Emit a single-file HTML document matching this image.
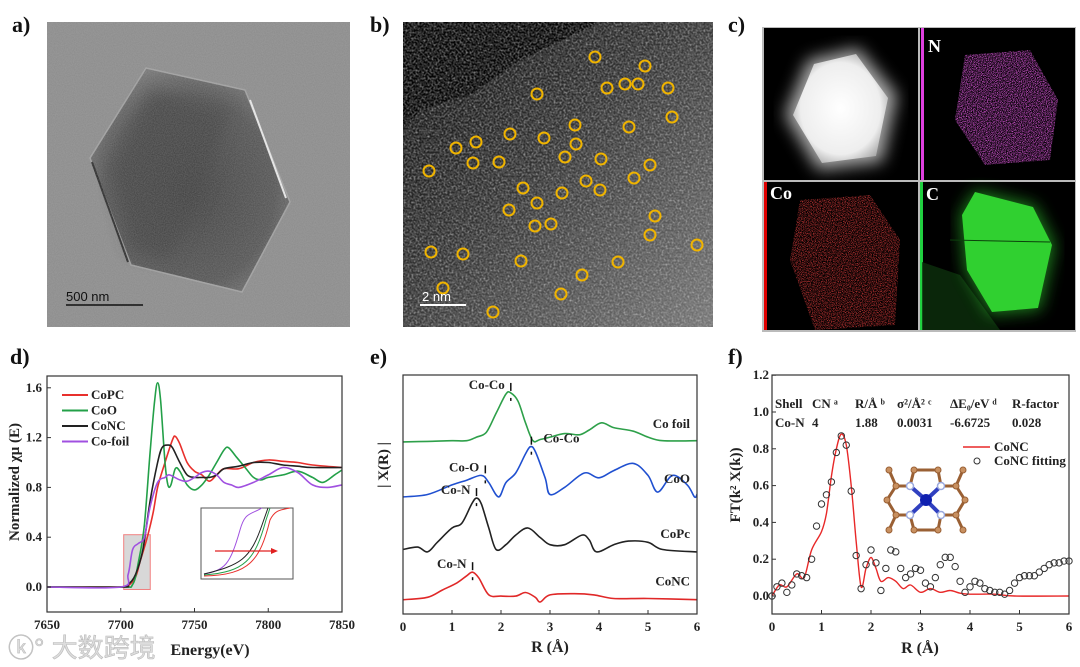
<!DOCTYPE html>
<html><head><meta charset="utf-8"><style>
html,body{margin:0;padding:0;background:#fff;}
svg{display:block;font-family:"Liberation Serif","Noto Serif CJK SC",serif;}
.t{font-weight:bold;font-size:13px;fill:#222;}
.pl{font-weight:bold;font-size:22px;fill:#111;}
</style></head><body>
<svg id="fig" width="1080" height="667" viewBox="0 0 1080 667" xmlns="http://www.w3.org/2000/svg">
<defs>
<filter id="noiseA" x="0" y="0" width="100%" height="100%"><feTurbulence type="fractalNoise" baseFrequency="0.9" numOctaves="2" seed="3"/><feColorMatrix type="matrix" values="0 0 0 0 0.5  0 0 0 0 0.5  0 0 0 0 0.5  0 0 0 0.35 0"/><feComposite in2="SourceGraphic" operator="in"/></filter>
<filter id="noiseB" x="0" y="0" width="100%" height="100%"><feTurbulence type="fractalNoise" baseFrequency="0.5" numOctaves="2" seed="7"/><feColorMatrix type="matrix" values="0 0 0 0.9 0  0 0 0 0.9 0  0 0 0 0.9 0  1.3 0 0 0 -0.45"/><feComposite in2="SourceGraphic" operator="in"/></filter>
<filter id="dotsP" x="0" y="0" width="100%" height="100%"><feTurbulence type="fractalNoise" baseFrequency="1.2" numOctaves="1" seed="2"/><feColorMatrix type="matrix" values="0 0 0 0 0.75  0 0 0 0 0.1  0 0 0 0 0.75  3 0 0 0 -1.2"/><feComposite in2="SourceGraphic" operator="in"/></filter>
<filter id="dotsR" x="0" y="0" width="100%" height="100%"><feTurbulence type="fractalNoise" baseFrequency="1.2" numOctaves="1" seed="5"/><feColorMatrix type="matrix" values="0 0 0 0 0.8  0 0 0 0 0.05  0 0 0 0 0.05  3 0 0 0 -1.3"/><feComposite in2="SourceGraphic" operator="in"/></filter>
<filter id="blur4"><feGaussianBlur stdDeviation="8"/></filter>
<linearGradient id="gb" x1="0" y1="0" x2="1" y2="1"><stop offset="0" stop-color="#0a0a0a"/><stop offset="0.45" stop-color="#333"/><stop offset="1" stop-color="#777"/></linearGradient>
<radialGradient id="ga" cx="0.5" cy="0.55" r="0.6"><stop offset="0" stop-color="#3c3c3c"/><stop offset="0.7" stop-color="#505050"/><stop offset="1" stop-color="#777"/></radialGradient>
<radialGradient id="gw" cx="0.5" cy="0.5" r="0.6"><stop offset="0" stop-color="#fff"/><stop offset="0.7" stop-color="#eee"/><stop offset="1" stop-color="#999"/></radialGradient>
</defs>

<!-- panel a -->
<g>
<text class="pl" x="12" y="32">a)</text>
<rect x="47" y="22" width="303" height="305" fill="#8a8a8a"/>
<polygon points="146,68 245,90 290,202 242,292 131,265 90,158" fill="url(#ga)" stroke="#a0a0a0" stroke-width="1.5"/>
<polygon points="110,170 150,90 230,110 200,200 170,260 130,250" fill="#3a3a3a" filter="url(#blur4)" opacity="0.7"/>
<line x1="250" y1="100" x2="286" y2="198" stroke="#eee" stroke-width="2"/>
<line x1="92" y1="162" x2="128" y2="262" stroke="#222" stroke-width="2"/>
<rect x="47" y="22" width="303" height="305" fill="#fff" filter="url(#noiseA)"/>
<line x1="66" y1="305" x2="143" y2="305" stroke="#111" stroke-width="1.5"/>
<text x="66" y="301" font-size="13" fill="#111" font-family="Liberation Sans,sans-serif">500 nm</text>
</g>

<!-- panel b -->
<g>
<text class="pl" x="370" y="32">b)</text>
<rect x="403" y="22" width="310" height="305" fill="url(#gb)"/>
<polygon points="403,22 600,22 520,60 470,95 420,110 403,130" fill="#050505"/>
<rect x="403" y="22" width="310" height="305" fill="#fff" filter="url(#noiseB)"/>
<g id="circles" fill="none" stroke="#f0b400" stroke-width="2"></g>
<line x1="420" y1="305" x2="466" y2="305" stroke="#fff" stroke-width="2"/>
<text x="422" y="301" font-size="13" fill="#fff" font-family="Liberation Sans,sans-serif">2 nm</text>
</g>

<!-- panel c -->
<g>
<text class="pl" x="728" y="32">c)</text>
<rect x="762" y="27" width="314" height="305" fill="#bbb"/>
<rect x="764" y="28" width="154" height="152" fill="#000"/>
<polygon points="808,60 858,48 897,95 882,162 818,170 785,115" fill="#aaa" filter="url(#blur4)"/>
<polygon points="814,64 856,54 888,98 876,156 822,163 793,115" fill="url(#gw)"/>
<rect x="920" y="28" width="155" height="152" fill="#000"/>
<rect x="921" y="28" width="3" height="152" fill="#e040e0"/>
<polygon points="965,55 1030,50 1058,100 1050,160 985,165 955,120" fill="#fff" filter="url(#dotsP)"/>
<text x="928" y="52" font-size="18" font-weight="bold" fill="#fff">N</text>
<rect x="764" y="182" width="154" height="148" fill="#000"/>
<rect x="764" y="182" width="3" height="148" fill="#e00000"/>
<polygon points="800,200 870,195 900,240 895,325 815,330 790,260" fill="#fff" filter="url(#dotsR)"/>
<text x="770" y="199" font-size="18" font-weight="bold" fill="#fff">Co</text>
<rect x="920" y="182" width="155" height="148" fill="#000"/>
<rect x="920" y="182" width="3" height="148" fill="#20d040"/>
<polygon points="922,262 960,275 1000,330 922,330" fill="#0c300c" opacity="0.8"/>
<polygon points="975,190 1035,205 1055,245 1040,310 990,315 965,270 960,215" fill="#30d030" filter="url(#blur4)" opacity="0.6"/>
<polygon points="975,192 1033,207 1052,245 1038,308 992,312 967,270 962,215" fill="#30d030"/>
<line x1="950" y1="240" x2="1050" y2="242" stroke="#0c400c" stroke-width="1"/>
<text x="926" y="200" font-size="18" font-weight="bold" fill="#fff">C</text>
</g>

<g id="pd">
<text class="pl" x="10" y="364">d)</text>
</g>
<g id="pe">
<text class="pl" x="370" y="364">e)</text>
</g>
<g id="pf">
<text class="pl" x="728" y="364">f)</text>
</g>
<text x="8" y="657" font-size="26" fill="#ddd" stroke="#bbb" stroke-width="0.6" font-family="Liberation Sans,Noto Sans CJK SC,sans-serif">ⓚ° 大数跨境</text>
</svg>
<script>
const NS="http://www.w3.org/2000/svg";
function mk(p,tag,a,txt){const e=document.createElementNS(NS,tag);for(const k in a)e.setAttribute(k,a[k]);if(txt!==undefined)e.textContent=txt;p.appendChild(e);return e;}
function smooth(pts){let d='M'+pts[0][0].toFixed(1)+','+pts[0][1].toFixed(1);
 for(let i=0;i<pts.length-1;i++){const p0=pts[Math.max(0,i-1)],p1=pts[i],p2=pts[i+1],p3=pts[Math.min(pts.length-1,i+2)];
  const c1=[p1[0]+(p2[0]-p0[0])/6,p1[1]+(p2[1]-p0[1])/6],c2=[p2[0]-(p3[0]-p1[0])/6,p2[1]-(p3[1]-p1[1])/6];
  d+='C'+c1[0].toFixed(1)+','+c1[1].toFixed(1)+' '+c2[0].toFixed(1)+','+c2[1].toFixed(1)+' '+p2[0].toFixed(1)+','+p2[1].toFixed(1);}
 return d;}

const atomX=[595,645,607,625,638,668,537,672,575,629,510,544,476,456,576,565,601,473,499,650,429,634,586,523,600,562,537,509,655,535,551,650,697,431,463,521,618,582,443,561,493];
const atomY=[57,66,88,84,84,88,94,117,125,127,134,138,142,148,144,157,159,163,162,165,171,178,181,188,190,193,203,210,216,226,224,235,245,252,254,261,262,275,288,294,312];
const cg=document.getElementById('circles');
atomX.forEach((x,i)=>{const c=mk(cg,'circle',{cx:x,cy:atomY[i],r:5.5});

});

const dXTicks=[7650,7700,7750,7800,7850];
const dYTicks=[0.0,0.4,0.8,1.2,1.6];
const copcE=[7650,7700,7705,7710,7713,7718,7722,7725,7730,7735,7737,7740,7745,7750,7755,7760,7765,7770,7780,7790,7800,7810,7820,7830,7850];
const copcV=[0,0,0.01,0.08,0.2,0.4,0.6,0.8,1.0,1.18,1.21,1.15,1.0,0.93,0.9,0.85,0.9,0.95,0.95,1.0,1.02,1.01,1.0,0.98,0.96];
const cooE=[7650,7700,7708,7712,7716,7720,7723,7725,7727,7730,7732,7734,7737,7740,7745,7750,7755,7760,7765,7770,7773,7778,7785,7790,7795,7800,7810,7820,7830,7837,7845,7850];
const cooV=[0,0,0.02,0.2,0.5,1.1,1.5,1.64,1.5,1.0,0.82,0.82,0.95,0.93,0.82,0.78,0.82,0.9,1.0,1.1,1.12,1.05,0.95,0.88,0.86,0.88,0.9,0.93,0.88,0.84,0.9,0.94];
const concE=[7650,7700,7705,7710,7715,7720,7725,7728,7732,7735,7740,7745,7750,7755,7760,7765,7770,7780,7790,7800,7810,7820,7830,7850];
const concV=[0,0,0.02,0.1,0.3,0.7,1.0,1.12,1.14,1.12,1.0,0.9,0.88,0.88,0.88,0.9,0.95,0.97,1.0,1.0,0.98,0.97,0.96,0.96];
const foilE=[7650,7700,7705,7708,7712,7716,7720,7725,7730,7733,7740,7745,7750,7755,7760,7765,7770,7775,7780,7790,7800,7810,7820,7830,7840,7850];
const foilV=[0,0,0.1,0.3,0.35,0.4,0.65,0.84,0.88,0.9,0.86,0.85,0.88,0.92,0.93,0.9,0.84,0.82,0.8,0.84,0.9,0.96,0.92,0.82,0.8,0.82];
const dNames=['CoPC','CoO','CoNC','Co-foil'];
const dColors=['#e8302c','#23a048','#222','#a050e0'];

function axesBox(g,x0,y0,x1,y1){mk(g,'rect',{x:x0,y:y0,width:x1-x0,height:y1-y0,fill:'none',stroke:'#333','stroke-width':1.2,});}

(function(){
 const g=document.getElementById('pd');
 const X0=47,X1=342,Y0=376,Y1=612;
 const sx=e=>X0+(e-7650)/200*(X1-X0);
 const sy=v=>587-v*124.5;
 mk(g,'rect',{x:sx(7702),y:sy(0.42),width:sx(7720)-sx(7702),height:sy(-0.02)-sy(0.42),fill:'#d8d8d8',stroke:'#f08080','stroke-width':1,});
 const sets=[[copcE,copcV],[cooE,cooV],[concE,concV],[foilE,foilV]];
 sets.forEach((s,k)=>{const d=smooth(s[0].map((e,i)=>[sx(e),sy(s[1][i])]));
  const p=mk(g,'path',{d:d,fill:'none',stroke:dColors[k],'stroke-width':1.6,'stroke-linejoin':'round'});
  
  });
 axesBox(g,X0,Y0,X1,Y1);
 dXTicks.forEach(t=>{mk(g,'line',{x1:sx(t),x2:sx(t),y1:Y1,y2:Y1-4,stroke:'#333'});
  const l=mk(g,'text',{x:sx(t),y:Y1+17,'text-anchor':'middle',class:'t'},String(t));
  
  });
 dYTicks.forEach(t=>{mk(g,'line',{x1:X0,x2:X0+4,y1:sy(t),y2:sy(t),stroke:'#333'});
  const l=mk(g,'text',{x:X0-5,y:sy(t)+4,'text-anchor':'end',class:'t'},t.toFixed(1));
  
  });
 dNames.forEach((n,k)=>{const y=395+k*15.5;mk(g,'line',{x1:62,x2:88,y1:y,y2:y,stroke:dColors[k],'stroke-width':2});
  const l=mk(g,'text',{x:91,y:y+4,class:'t'},n);
  
  });
 const ins=mk(g,'g',{});
 mk(ins,'rect',{x:201,y:508,width:92,height:71,fill:'#fff',stroke:'#555'});
 mk(ins,'path',{d:'M204,574 C225,570 230,565 240,530 C245,512 250,515 262,508',fill:'none',stroke:'#a050e0'});
 mk(ins,'path',{d:'M204,574 C240,565 250,560 262,525 L268,508',fill:'none',stroke:'#222'});
 mk(ins,'path',{d:'M204,575 C245,572 255,560 266,520 L270,508',fill:'none',stroke:'#23a048'});
 mk(ins,'path',{d:'M204,576 C250,575 260,560 270,520 C275,510 280,510 290,508',fill:'none',stroke:'#e8302c'});
 mk(ins,'line',{x1:215,y1:551,x2:272,y2:551,stroke:'#e02020','stroke-width':1.2});
 mk(ins,'polygon',{points:'278,551 271,548 271,554',fill:'#e02020'});
 const yl=mk(g,'text',{x:0,y:0,class:'t','text-anchor':'middle',transform:'translate(19,482) rotate(-90)'},'Normalized χμ (E)');
 yl.setAttribute('style','font-size:15px');
 
 
 const xl=mk(g,'text',{x:210,y:655,'text-anchor':'middle',class:'t',style:'font-size:16px'},'Energy(eV)');
 
 
})();

const eXTicks=[0,1,2,3,4,5,6];
const eNames=['Co foil','CoO','CoPc','CoNC'];
const eColors=['#2ea04a','#2050d0','#222','#e02828'];
const eOffsets=[7.2,4.9,2.6,0.6];
const foilR=[0,0.5,1.0,1.3,1.5,1.7,1.9,2.1,2.2,2.35,2.5,2.65,2.8,3.0,3.3,3.6,3.8,4.05,4.3,4.7,5.0,5.3,6.0];
const foilA=[0,0.02,0.05,0.05,0.2,0.4,1.2,2.0,2.05,1.7,0.8,0.05,0.1,0.2,0.35,0.3,0.5,0.8,0.6,0.45,0.2,0.05,0.05];
const cooR=[0,0.5,1.0,1.3,1.6,1.75,1.95,2.1,2.3,2.5,2.6,2.7,2.9,3.0,3.3,3.7,4.0,4.3,4.7,5.0,5.2,5.5,5.8,5.95,6.0];
const cooA=[0,0.1,0.5,0.7,0.9,0.6,0.0,0.6,1.0,1.8,2.1,1.9,0.8,0.1,0.4,1.0,0.8,1.1,1.4,0.9,0.2,0.9,0.5,0.0,0.1];
const copcR=[0,0.3,0.5,0.7,1.0,1.2,1.4,1.5,1.6,1.75,1.9,2.1,2.3,2.55,2.8,3.0,3.3,3.65,3.8,3.95,4.3,4.6,5.0,5.3,6.0];
const copcA=[0.1,0.2,0.0,0.4,1.0,1.2,2.0,2.25,2.0,1.0,0.1,0.3,0.7,1.0,0.6,0.3,0.3,0.7,0.5,0.0,0.3,0.45,0.4,0.1,0.0];
const concR=[0,0.5,0.8,1.1,1.3,1.42,1.55,1.75,2.0,2.3,2.5,2.7,2.8,3.0,3.5,3.9,4.3,5.0,6.0];
const concA=[0,0.1,0.4,0.7,1.0,1.15,0.9,0.2,0.15,0.15,0.3,0.1,-0.1,0.2,0.25,0.2,0.05,0.05,0];
const eMarks=[['Co-Co',2.2,2.05],['Co-O',1.68,0.9],['Co-Co',2.62,2.1],['Co-N',1.5,2.25],['Co-N',1.42,1.15]];
const eMarkSeries=[0,1,1,2,3];

(function(){
 const g=document.getElementById('pe');
 const X0=403,X1=697,Y0=375,Y1=614;
 const sx=r=>X0+r/6*(X1-X0);
 const sy=v=>Y1-v*23.9;
 const sets=[[foilR,foilA],[cooR,cooA],[copcR,copcA],[concR,concA]];
 sets.forEach((s,k)=>{const d=smooth(s[0].map((r,i)=>[sx(r),sy(s[1][i]+eOffsets[k])]));
  const p=mk(g,'path',{d:d,fill:'none',stroke:eColors[k],'stroke-width':1.6,'stroke-linejoin':'round'});
  
  
  const l=mk(g,'text',{x:690,y:sy(eOffsets[k])-14,'text-anchor':'end',class:'t'},eNames[k]);
  
  });
 eMarks.forEach((m,i)=>{const k=eMarkSeries[i];const x=sx(m[1]),y=sy(m[2]+eOffsets[k]);
  mk(g,'line',{x1:x,x2:x,y1:y-10,y2:y-2,stroke:'#111','stroke-width':1.5});
  mk(g,'line',{x1:x,x2:x,y1:y+5,y2:y+8,stroke:'#111','stroke-width':1.5});
  const right=(i===2);
  const l=mk(g,'text',{x:right?x+12:x-6,y:y-4,'text-anchor':right?'start':'end',class:'t'},m[0]);
  
  });
 axesBox(g,X0,Y0,X1,Y1);
 eXTicks.forEach(t=>{mk(g,'line',{x1:sx(t),x2:sx(t),y1:Y1,y2:Y1-4,stroke:'#333'});
  const l=mk(g,'text',{x:sx(t),y:Y1+17,'text-anchor':'middle',class:'t'},String(t));
  
  });
 const yl=mk(g,'text',{x:0,y:0,'text-anchor':'middle',class:'t',style:'font-size:15px',transform:'translate(388,465) rotate(-90)'},'| X(R) |');
 
 
 const xl=mk(g,'text',{x:550,y:652,'text-anchor':'middle',class:'t',style:'font-size:16px'},'R (Å)');
 
 
})();

const fXTicks=[0,1,2,3,4,5,6];
const fYTicks=[0.0,0.2,0.4,0.6,0.8,1.0,1.2];
const fitR=[0,0.1,0.2,0.3,0.4,0.5,0.6,0.7,0.8,0.9,1.0,1.1,1.2,1.3,1.4,1.5,1.6,1.7,1.8,1.9,2.0,2.1,2.2,2.3,2.4,2.5,2.6,2.7,2.8,2.9,3.0,3.1,3.2,3.3,3.4,3.5,3.6,3.7,3.8,3.9,4.0,4.1,4.2,4.3,4.4,4.5,4.6,4.7,4.8,4.9,5.0,5.1,5.2,5.3,5.4,5.5,5.6,5.7,5.8,5.9,6.0];
const fitV=[0.0,0.05,0.07,0.02,0.06,0.12,0.11,0.1,0.2,0.38,0.5,0.55,0.62,0.78,0.87,0.82,0.57,0.22,0.04,0.17,0.25,0.18,0.03,0.15,0.25,0.24,0.15,0.1,0.12,0.15,0.14,0.07,0.05,0.1,0.17,0.21,0.21,0.16,0.08,0.02,0.05,0.08,0.07,0.04,0.03,0.02,0.02,0.01,0.03,0.07,0.1,0.11,0.11,0.11,0.13,0.15,0.17,0.18,0.18,0.19,0.19];
const concFR=[0,0.15,0.3,0.5,0.65,0.8,1.0,1.1,1.2,1.3,1.4,1.5,1.6,1.7,1.8,1.9,2.0,2.1,2.2,2.35,2.5,2.65,2.8,3.0,3.2,3.4,3.6,3.8,4.0,4.5,4.9,6.0];
const concFV=[0.0,0.06,0.05,0.12,0.1,0.25,0.35,0.45,0.65,0.8,0.88,0.82,0.6,0.3,0.05,0.15,0.21,0.15,0.08,0.1,0.08,0.04,0.06,0.02,0.04,0.02,0.03,0.015,0.01,0.01,0.0,0.0];
const tblHead=['Shell','CN ᵃ','R/Å ᵇ','σ²/Å² ᶜ','ΔE₀/eV ᵈ','R-factor'];
const tblRow=['Co-N','4','1.88','0.0031','-6.6725','0.028'];

(function(){
 const g=document.getElementById('pf');
 const X0=772,X1=1069,Y0=375,Y1=614;
 const sx=r=>X0+r/6*(X1-X0);
 const sy=v=>596-v*184;
 const d=smooth(concFR.map((r,i)=>[sx(r),sy(concFV[i])]));
 const p=mk(g,'path',{d:d,fill:'none',stroke:'#e82828','stroke-width':1.4});
 
 
 fitR.forEach((r,i)=>{const c=mk(g,'circle',{cx:sx(r),cy:sy(fitV[i]),r:3.2,fill:'none',stroke:'#333','stroke-width':1});
  
  });
 axesBox(g,X0,Y0,X1,Y1);
 fXTicks.forEach(t=>{mk(g,'line',{x1:sx(t),x2:sx(t),y1:Y1,y2:Y1-4,stroke:'#333'});
  const l=mk(g,'text',{x:sx(t),y:Y1+17,'text-anchor':'middle',class:'t'},String(t));
  
  });
 fYTicks.forEach(t=>{mk(g,'line',{x1:X0,x2:X0+4,y1:sy(t),y2:sy(t),stroke:'#333'});
  const l=mk(g,'text',{x:X0-3,y:sy(t)+4,'text-anchor':'end',class:'t'},t.toFixed(1));
  
  });
 const cx=[775,812,855,897,950,1012];
 tblHead.forEach((h,i)=>{const l=mk(g,'text',{x:cx[i],y:408,class:'t'},h);
  
  
  const v=mk(g,'text',{x:cx[i],y:427,class:'t'},tblRow[i]);
  
  });
 mk(g,'line',{x1:963,x2:990,y1:447,y2:447,stroke:'#e82828','stroke-width':1.5});
 const l1=mk(g,'text',{x:994,y:451,class:'t'},'CoNC');
 
 
 mk(g,'circle',{cx:977,cy:461,r:3,fill:'none',stroke:'#333'});
 const l2=mk(g,'text',{x:994,y:465,class:'t'},'CoNC fitting');
 
 
 const m=mk(g,'g',{});
 const br='#9a6034';
 const C=[[896,486],[887,500],[896,515],[956,486],[965,500],[956,515],[914,470],[938,470],[914,530],[938,530],[889,470],[963,470],[889,530],[963,530]];
 const N=[[910,486],[941,486],[910,515],[941,515]];
 [[896,486,910,486],[896,515,910,515],[956,486,941,486],[956,515,941,515],[896,486,887,500],[887,500,896,515],[956,486,965,500],[965,500,956,515],[910,486,914,470],[941,486,938,470],[914,470,938,470],[910,515,914,530],[941,515,938,530],[914,530,938,530],[896,486,889,470],[956,486,963,470],[896,515,889,530],[956,515,963,530]].forEach(b=>mk(m,'line',{x1:b[0],y1:b[1],x2:b[2],y2:b[3],stroke:br,'stroke-width':3}));
 N.forEach(n=>mk(m,'line',{x1:926,y1:500,x2:n[0],y2:n[1],stroke:'#3040c0','stroke-width':4}));
 C.forEach(c=>mk(m,'circle',{cx:c[0],cy:c[1],r:3,fill:'#c89060',stroke:br}));
 N.forEach(n=>mk(m,'circle',{cx:n[0],cy:n[1],r:3.5,fill:'#fff',stroke:'#9aa8dd','stroke-width':1.5}));
 mk(m,'circle',{cx:926,cy:500,r:6,fill:'#1020b0'});
 const yl=mk(g,'text',{x:0,y:0,'text-anchor':'middle',class:'t',style:'font-size:15px',transform:'translate(740,485) rotate(-90)'},'FT(k² X(k))');
 
 
 const xl=mk(g,'text',{x:920,y:653,'text-anchor':'middle',class:'t',style:'font-size:16px'},'R (Å)');
 
 
})();
</script>
</body></html>
